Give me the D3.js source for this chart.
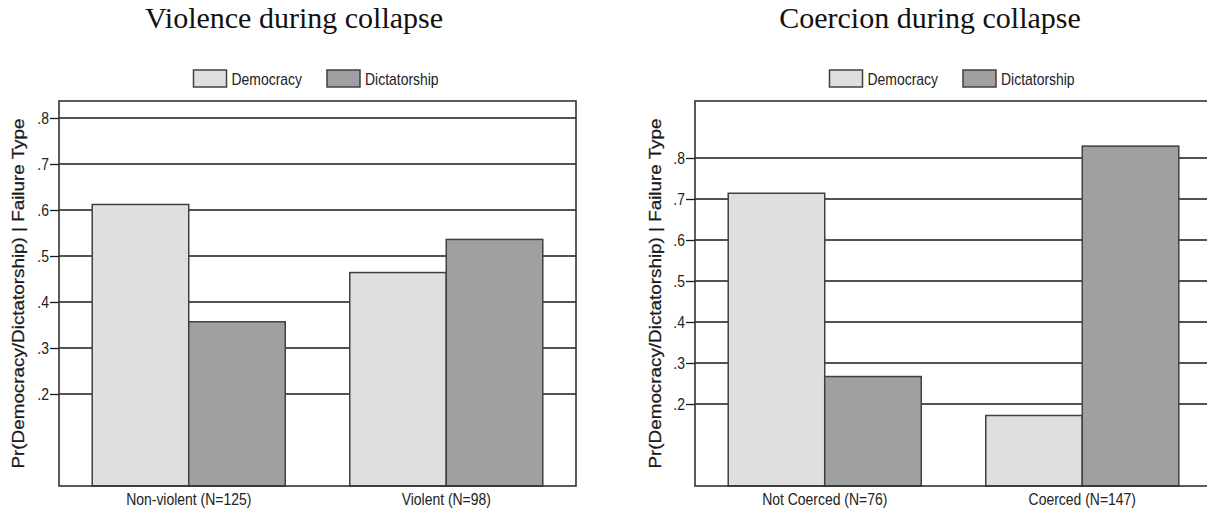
<!DOCTYPE html>
<html>
<head>
<meta charset="utf-8">
<script src="https://cdn.jsdelivr.net/npm/d3@7"></script>
<style>
  html, body { margin: 0; padding: 0; background: #fff; }
  svg { display: block; }
</style>
</head>
<body>
<svg id="chart" width="1207" height="514"></svg>
<script>
// ---- data ----
const seriesNames = ["Democracy", "Dictatorship"];
const violenceTitle = "Violence during collapse";
const violenceGroups = ["Non-violent (N=125)", "Violent (N=98)"];
const violenceDemocracy = [0.612, 0.464];
const violenceDictatorship = [0.357, 0.536];
const coercionTitle = "Coercion during collapse";
const coercionGroups = ["Not Coerced (N=76)", "Coerced (N=147)"];
const coercionDemocracy = [0.714, 0.172];
const coercionDictatorship = [0.267, 0.829];
const yTickValues = [0.2, 0.3, 0.4, 0.5, 0.6, 0.7, 0.8];
const yTickLabels = [".2", ".3", ".4", ".5", ".6", ".7", ".8"];
const yAxisTitle = "Pr(Democracy/Dictatorship) | Failure Type";

const colors = { "Democracy": "#dfdfdf", "Dictatorship": "#a0a0a0" };
const sans = "'Liberation Sans', Arial, sans-serif";

const svg = d3.select("#chart");

// condense text horizontally like Arial Narrow
function condense(sel, k) {
  sel.each(function () {
    const len = this.getComputedTextLength();
    d3.select(this).attr("textLength", len * k).attr("lengthAdjust", "spacingAndGlyphs");
  });
}

function panel(opts) {
  const { left, right, top, bottom, yMax, title, titleX, groups, dem, dic, yLabelX } = opts;
  const g = svg.append("g");

  const y = d3.scaleLinear().domain([0, yMax]).range([bottom, top]);
  const x0 = d3.scaleBand().domain(groups).range([left, right])
    .paddingInner(0.2505).paddingOuter(0.129);
  const x1 = d3.scaleBand().domain(seriesNames).range([0, x0.bandwidth()]);

  const rows = groups.map((grp, i) => ({ grp, values: [
    { s: "Democracy", v: dem[i] }, { s: "Dictatorship", v: dic[i] } ] }));

  // gridlines
  g.append("g").selectAll("line").data(yTickValues).join("line")
    .attr("x1", left).attr("x2", right)
    .attr("y1", d => y(d)).attr("y2", d => y(d))
    .attr("stroke", "#1a1a1a").attr("stroke-width", 1.3);

  // y axis ticks + labels
  const yAxis = d3.axisLeft(y).tickValues(yTickValues)
    .tickFormat((d, i) => yTickLabels[i]).tickSize(9).tickPadding(1);
  const ya = g.append("g").attr("transform", `translate(${left},0)`).call(yAxis);
  ya.select(".domain").remove();
  ya.selectAll(".tick line").attr("stroke", "#1a1a1a").attr("stroke-width", 1.3);
  ya.selectAll(".tick text").attr("font-family", sans).attr("font-size", 17)
    .attr("fill", "#222").call(condense, 0.82);

  // bars
  const bg = g.append("g").selectAll("g").data(rows).join("g")
    .attr("transform", d => `translate(${x0(d.grp)},0)`);
  bg.selectAll("rect").data(d => d.values).join("rect")
    .attr("x", d => x1(d.s)).attr("width", x1.bandwidth())
    .attr("y", d => y(d.v)).attr("height", d => y(0) - y(d.v))
    .attr("fill", d => colors[d.s]).attr("stroke", "#404040").attr("stroke-width", 1.5);

  // frame
  g.append("rect").attr("x", left).attr("y", top)
    .attr("width", right - left).attr("height", bottom - top)
    .attr("fill", "none").attr("stroke", "#333").attr("stroke-width", 1.6);

  // x axis labels
  const xAxis = d3.axisBottom(x0).tickSize(0).tickPadding(7);
  const xa = g.append("g").attr("transform", `translate(0,${bottom})`).call(xAxis);
  xa.select(".domain").remove();
  xa.selectAll(".tick text").attr("font-family", sans).attr("font-size", 17)
    .attr("fill", "#222").call(condense, 0.82);

  // title
  g.append("text").attr("x", titleX).attr("y", 28).attr("text-anchor", "middle")
    .attr("font-family", "'Liberation Serif', 'Times New Roman', serif")
    .attr("font-size", 30).attr("fill", "#111").text(title);

  // legend
  const cx = (left + right) / 2;
  const leg = g.append("g").selectAll("g").data(seriesNames).join("g")
    .attr("transform", (d, i) => `translate(${cx - 124 + i * 133.5},70)`);
  leg.append("rect").attr("width", 33).attr("height", 17)
    .attr("fill", d => colors[d]).attr("stroke", "#404040").attr("stroke-width", 1.5);
  leg.append("text").attr("x", 38).attr("y", 14.5)
    .attr("font-family", sans).attr("font-size", 17).attr("fill", "#222").text(d => d)
    .call(condense, 0.82);

  // y axis title
  g.append("text")
    .attr("transform", `translate(${yLabelX},${(top + bottom) / 2}) rotate(-90)`)
    .attr("text-anchor", "middle")
    .attr("font-family", sans)
    .attr("font-size", 16.5).attr("fill", "#1a1a1a").attr("stroke", "#1a1a1a").attr("stroke-width", 0.25)
    .attr("textLength", 350).attr("lengthAdjust", "spacingAndGlyphs")
    .text(yAxisTitle);
}

panel({ left: 59, right: 576, top: 101, bottom: 486, yMax: 385 / 460,
  title: violenceTitle, titleX: 294, groups: violenceGroups,
  dem: violenceDemocracy, dic: violenceDictatorship, yLabelX: 24 });

panel({ left: 695, right: 1212, top: 101, bottom: 486, yMax: 385 / 410,
  title: coercionTitle, titleX: 930, groups: coercionGroups,
  dem: coercionDemocracy, dic: coercionDictatorship, yLabelX: 661 });
</script>
</body>
</html>
